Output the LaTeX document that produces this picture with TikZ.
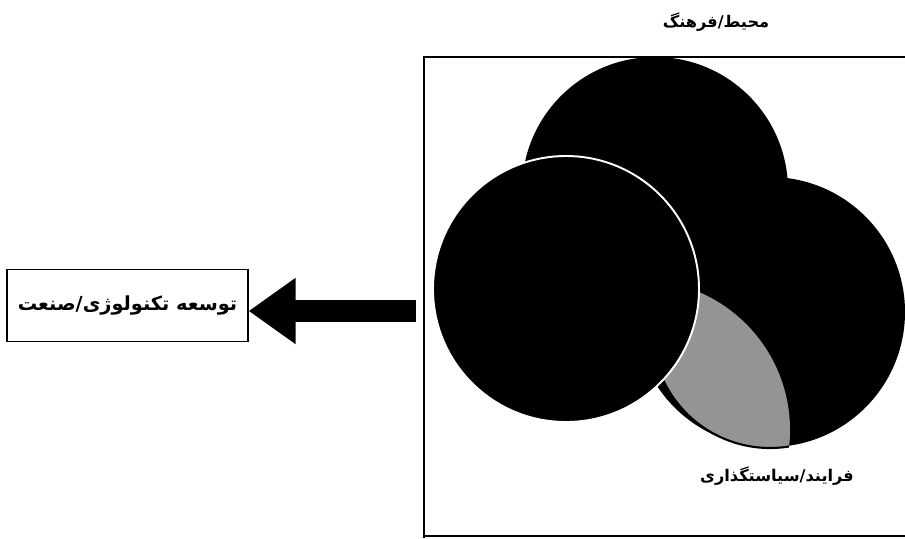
\documentclass[tikz,border=0pt]{standalone}
\usepackage{fontspec}
\TeXXeTstate=1
\newfontfamily\farsi[Script=Arabic]{DejaVu Sans}
\usetikzlibrary{arrows.meta}

\begin{document}
\begin{tikzpicture}[
    x=0.02cm, y=-0.02cm,
    every node/.append style={font=\farsi\bfseries},  % Persian labels
    label/.style={inner sep=0pt, font=\farsi\bfseries\fontsize{9.2}{11}\selectfont},
    techbox/.style={draw, line width=0.7pt, inner sep=0pt, minimum width=4.82cm, minimum height=1.44cm, font=\farsi\bfseries\fontsize{11}{13}\selectfont},
    frameline/.style={line width=0.9pt},
    bigarrow/.style={line width=0.44cm, -{Triangle[length=0.94cm, width=1.26cm]}},
]
\useasboundingbox (0,0) rectangle (905,538);

% frame
\draw[frameline] (905,57) -- (424,57) -- (424,538);
\draw[frameline] (424,536) -- (905,536);

% circles: back to front
\fill[black] (655,190) circle (133);
\fill[black] (770,312) circle (135);
\begin{scope}
  \clip (640,430) circle (150);
  \fill[black!42] (770,330) circle (118);
  \draw[line width=1.2pt] (770,330) circle (118);
\end{scope}
\fill[black] (566,289) circle (133);
\draw[white, line width=1.1pt] (566,289) circle (133);

% labels
\node[label] (env) at (716,22) {\beginR محیط/فرهنگ\endR};
\node[label] (proc) at (777,476) {\beginR فرایند/سیاستگذاری\endR};
\node[techbox] (tech) at (127.5,305.5) {\beginR توسعه تکنولوژی/صنعت\endR};

% arrow
\coordinate (tail) at (416,311);
\draw[bigarrow] (tail) -- (tech.east |- tail);

\end{tikzpicture}
\end{document}
